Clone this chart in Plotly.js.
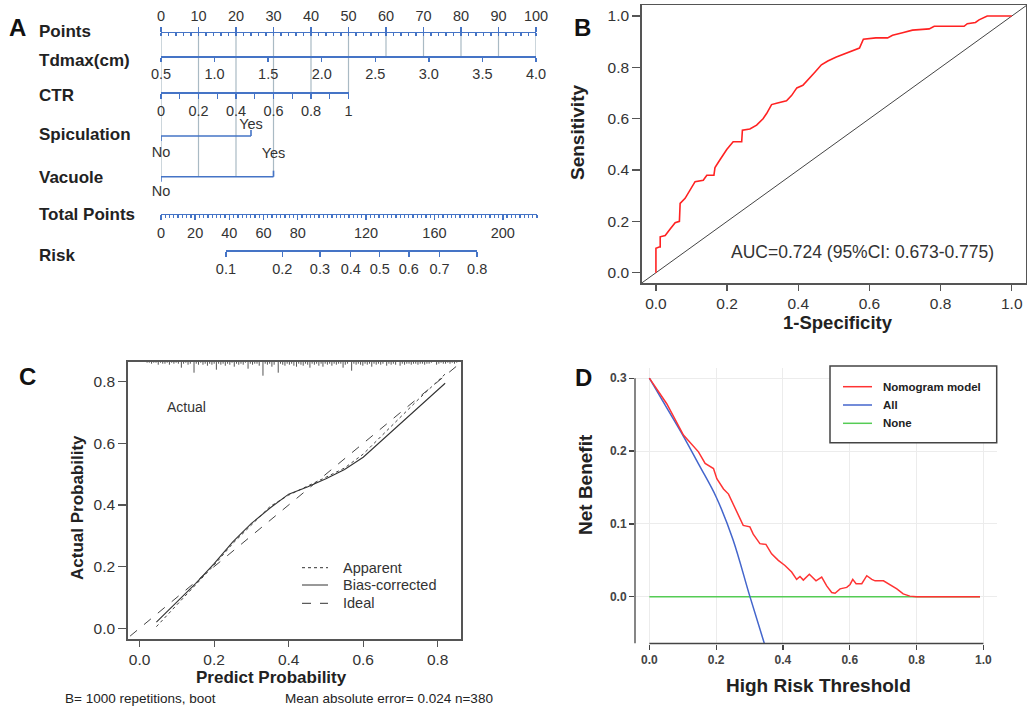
<!DOCTYPE html>
<html>
<head>
<meta charset="utf-8">
<script src="https://cdn.plot.ly/plotly-3.0.1.min.js"></script>
<style>html,body{margin:0;padding:0;background:#fff;}#fig{width:1027px;height:709px;}</style>
</head>
<body>
<div id="fig"></div>
<script>
// ================= DATA =================
// Panel A - nomogram
const pointsTicks = [0,10,20,30,40,50,60,70,80,90,100];
const tdmaxTicks = [0.5,1.0,1.5,2.0,2.5,3.0,3.5,4.0];
const tdmaxMaxPoints = 100;
const ctrTicks = [0,0.2,0.4,0.6,0.8,1];
const ctrMaxPoints = 50;
const spicLevels = ['No','Yes'];
const spicPoints = [0,24];
const vacLevels = ['No','Yes'];
const vacPoints = [0,30];
const totalTicks = [0,20,40,60,80,120,160,200];
const totalMax = 220;
const riskTicks = [0.1,0.2,0.3,0.4,0.5,0.6,0.7,0.8];
const riskTotalPoints = [38,71,93,111,128,145,163,185];
const rowNames = ['Points','Tdmax(cm)','CTR','Spiculation','Vacuole','Total Points','Risk'];

// Panel B - ROC
const rocFpr = [0,0,0.009,0.012,0.012,0.026,0.040,0.054,0.066,0.068,0.082,0.091,0.101,0.110,0.133,0.143,0.163,0.166,0.180,0.189,0.199,0.217,0.241,0.243,0.264,0.283,0.301,0.311,0.325,0.339,0.367,0.381,0.396,0.413,0.427,0.446,0.465,0.483,0.507,0.535,0.553,0.572,0.583,0.618,0.651,0.665,0.693,0.721,0.768,0.782,0.866,0.875,0.898,0.908,0.931,1.0];
const rocTpr = [0,0.095,0.10,0.10,0.14,0.145,0.17,0.195,0.20,0.27,0.29,0.31,0.33,0.355,0.36,0.38,0.38,0.41,0.44,0.46,0.48,0.51,0.51,0.555,0.56,0.575,0.60,0.62,0.655,0.66,0.67,0.69,0.72,0.73,0.75,0.78,0.81,0.825,0.84,0.855,0.865,0.875,0.91,0.915,0.915,0.925,0.935,0.945,0.95,0.96,0.96,0.97,0.975,0.985,1.0,1.0];
const chanceLine = [-0.1,1.1];
const aucLabel = 'AUC=0.724 (95%CI: 0.673-0.775)';

// Panel C - calibration
const calPred = [0.045,0.10,0.15,0.20,0.25,0.30,0.35,0.40,0.45,0.50,0.55,0.60,0.65,0.70,0.75,0.82];
const calApparent = [0.005,0.075,0.140,0.205,0.275,0.335,0.395,0.432,0.460,0.490,0.520,0.565,0.625,0.685,0.745,0.825];
const calBiasCorrected = [0.020,0.085,0.145,0.210,0.280,0.340,0.390,0.435,0.458,0.485,0.515,0.555,0.610,0.665,0.720,0.795];
const idealLine = [-0.1,1.0];
const rugP = [0.020,0.026,0.032,0.038,0.044,0.050,0.056,0.062,0.068,0.074,
  0.080,0.086,0.092,0.098,0.104,0.112,0.118,0.124,0.130,0.136,
  0.146,0.152,0.158,0.164,0.170,0.176,0.182,0.188,0.194,0.200,
  0.206,0.212,0.218,0.224,0.230,0.236,0.242,0.248,0.254,0.260,
  0.266,0.272,0.278,0.284,0.291,0.297,0.303,0.309,0.315,0.321,
  0.331,0.337,0.343,0.349,0.355,0.361,0.372,0.378,0.384,0.390,
  0.396,0.402,0.408,0.414,0.421,0.427,0.433,0.439,0.445,0.451,
  0.457,0.463,0.469,0.475,0.481,0.487,0.492,0.498,0.504,0.510,
  0.516,0.522,0.528,0.534,0.540,0.546,0.552,0.558,0.569,0.575,
  0.581,0.587,0.593,0.599,0.605,0.611,0.617,0.623,0.629,0.635,
  0.641,0.647,0.653,0.663,0.669,0.675,0.681,0.687,0.699,0.705,
  0.711,0.717,0.723,0.729,0.735,0.741,0.747,0.753,0.759,0.765,
  0.771,0.777,0.783,0.797,0.803,0.809,0.815,0.821,0.827,0.833,
  0.839,0.845,0.851];
const rugLen = [1,1,2,1,1,3,1,2,2,1,
  3,1,2,1,2,6,2,1,3,2,
  11,2,3,1,3,2,4,2,3,2,
  8,2,3,2,4,2,3,1,5,2,
  3,2,3,1,7,2,3,2,2,4,
  14,2,3,2,5,3,11,2,3,4,
  2,3,2,4,5,2,3,4,2,3,
  6,2,3,2,4,2,5,2,3,2,
  4,2,3,2,2,6,3,2,9,2,
  3,2,3,4,2,3,2,5,2,3,
  2,3,2,4,2,3,2,3,4,2,
  3,2,2,3,2,2,3,2,2,3,
  2,2,1,3,2,1,2,2,1,2,
  1,2,1];
const calLegend = ['Apparent','Bias-corrected','Ideal'];
const calNoteLeft = 'B= 1000 repetitions, boot';
const calNoteRight = 'Mean absolute error= 0.024 n=380';

// Panel D - decision curve
const dcaT = [0,0.052,0.102,0.127,0.147,0.167,0.192,0.202,0.222,0.237,0.251,0.266,0.281,0.301,0.311,0.331,0.349,0.366,0.386,0.406,0.426,0.441,0.451,0.461,0.479,0.499,0.516,0.531,0.546,0.556,0.571,0.591,0.601,0.609,0.619,0.636,0.651,0.666,0.676,0.701,0.721,0.741,0.760,0.780,0.800,0.990];
const dcaModel = [0.300,0.265,0.222,0.210,0.199,0.183,0.176,0.162,0.148,0.141,0.128,0.114,0.098,0.096,0.086,0.073,0.072,0.059,0.050,0.043,0.034,0.024,0.028,0.023,0.031,0.022,0.027,0.015,0.006,0.005,0.011,0.013,0.017,0.024,0.018,0.018,0.029,0.024,0.022,0.022,0.017,0.011,0.004,0.001,0.000,0.000];
const dcaAllT = [0,0.05,0.10,0.15,0.20,0.25,0.30,0.345];
const dcaAll = [0.300,0.261,0.222,0.180,0.137,0.079,0.002,-0.065];
const dcaNoneT = [0,0.99];
const dcaNone = [0,0];
const dcaLegend = ['Nomogram model','All','None'];

// ================= LAYOUT HELPERS =================
const W = 1027, H = 709;
const fx = p => p / W;
const fy = p => 1 - p / H;
const FONT = 'Liberation Sans, Arial, Helvetica, sans-serif';
const BLUE = '#4574c6';
const GREYV = '#a9bac4';
const TXT = '#333333';

// nomogram geometry (pixels)
const nomo = {x0:161, x1:536, totX1:537, top:0, bottom:290};
const rowY = {points:31.7, tdmax:56, ctr:92, spic:136, vac:176.7, total:213.5, risk:250};
const ptPx = (nomo.x1 - nomo.x0) / 100;
const totPx = (nomo.totX1 - nomo.x0) / totalMax;

function nomoAxis(o) {
  return Object.assign({
    anchor:'free', showgrid:false, zeroline:false, showline:true,
    linecolor:BLUE, linewidth:1.6, ticks:'outside', tickcolor:BLUE, tickwidth:1.4, ticklen:5,
    tickfont:{family:FONT, size:14.5, color:TXT}, fixedrange:true, tickmode:'array'
  }, o);
}
function boxAxis(o) {
  return Object.assign({
    showgrid:false, zeroline:false, showline:true, mirror:true,
    linecolor:'#555', linewidth:1.5, ticks:'outside', tickcolor:'#555', tickwidth:1.3, ticklen:6,
    tickfont:{family:FONT, size:15.5, color:TXT}, fixedrange:true, tickmode:'array'
  }, o);
}

const riskDomain = [fx(nomo.x0 + riskTotalPoints[0]*totPx), fx(nomo.x0 + riskTotalPoints[riskTotalPoints.length-1]*totPx)];

// ================= TRACES =================
const traces = [];
// vertical reference lines of the nomogram
const rows = [
  {max: tdmaxMaxPoints, y: rowY.tdmax},
  {max: ctrMaxPoints, y: rowY.ctr},
  {max: spicPoints[1], y: rowY.spic},
  {max: vacPoints[1], y: rowY.vac}
];
const vx = [], vy = [];
pointsTicks.forEach(p => {
  let end = rowY.tdmax;
  rows.forEach(r => { if (r.max >= p - 0.5 && r.y > end) end = r.y; });
  vx.push(p, p, null); vy.push(rowY.points, end, null);
});
traces.push({type:'scatter', mode:'lines', x:vx, y:vy, xaxis:'x', yaxis:'y',
  line:{color:GREYV, width:1.2}, hoverinfo:'skip', showlegend:false});

function levelRow(pts, y) {
  traces.push({type:'scatter', mode:'lines', xaxis:'x', yaxis:'y',
    x:[pts[0], pts[1], null, pts[0], pts[0], null, pts[1], pts[1]],
    y:[y, y, null, y, y+5, null, y, y-6],
    line:{color:BLUE, width:1.6}, hoverinfo:'skip', showlegend:false});
}
levelRow(spicPoints, rowY.spic);
levelRow(vacPoints, rowY.vac);
traces.push({type:'scatter', mode:'text', xaxis:'x', yaxis:'y',
  x:[spicPoints[0], spicPoints[1], vacPoints[0], vacPoints[1]],
  y:[rowY.spic+17, rowY.spic-11, rowY.vac+15.5, rowY.vac-22],
  text:[spicLevels[0], spicLevels[1], vacLevels[0], vacLevels[1]],
  textposition:'middle center', textfont:{family:FONT, size:14.5, color:TXT},
  hoverinfo:'skip', showlegend:false, cliponaxis:false});
// anchor traces so the extra nomogram axes are drawn
['x2','x3','x4','x5'].forEach(ax => traces.push({type:'scatter', mode:'markers', x:[null], y:[null],
  xaxis:ax, yaxis:'y', hoverinfo:'skip', showlegend:false}));

// Panel B
traces.push({type:'scatter', mode:'lines', x:chanceLine, y:chanceLine, xaxis:'x6', yaxis:'y2',
  line:{color:'#444', width:1}, hoverinfo:'skip', showlegend:false});
traces.push({type:'scatter', mode:'lines', x:rocFpr, y:rocTpr, xaxis:'x6', yaxis:'y2',
  line:{color:'#ff2222', width:1.6}, name:'ROC', showlegend:false});

// Panel C
const cTop = 0.865, cBot = -0.036, cPxTop = 361.7, cPxBot = 639.3;
const rugUnit = (cTop - cBot) / (cPxBot - cPxTop);
const rx = [], ry = [];
rugP.forEach((p, i) => { rx.push(p, p, null); ry.push(cTop, cTop - rugLen[i]*rugUnit, null); });
traces.push({type:'scatter', mode:'lines', x:rx, y:ry, xaxis:'x7', yaxis:'y3',
  line:{color:'#555', width:1}, hoverinfo:'skip', showlegend:false});
traces.push({type:'scatter', mode:'lines', x:idealLine, y:idealLine, xaxis:'x7', yaxis:'y3',
  line:{color:'#444', width:1, dash:'dash'}, name:calLegend[2], showlegend:false});
traces.push({type:'scatter', mode:'lines', x:calPred, y:calApparent, xaxis:'x7', yaxis:'y3',
  line:{color:'#444', width:1, dash:'dot'}, name:calLegend[0], showlegend:false});
traces.push({type:'scatter', mode:'lines', x:calPred, y:calBiasCorrected, xaxis:'x7', yaxis:'y3',
  line:{color:'#333', width:1.1}, name:calLegend[1], showlegend:false});

// Panel D
const RED = '#ff3333', DBLUE = '#4466cc', GREEN = '#55cc55';
traces.push({type:'scatter', mode:'lines', x:dcaNoneT, y:dcaNone, xaxis:'x8', yaxis:'y4',
  line:{color:GREEN, width:1.5}, name:dcaLegend[2], showlegend:false});
traces.push({type:'scatter', mode:'lines', x:dcaAllT, y:dcaAll, xaxis:'x8', yaxis:'y4',
  line:{color:DBLUE, width:1.5, shape:'spline'}, name:dcaLegend[1], showlegend:false});
traces.push({type:'scatter', mode:'lines', x:dcaT, y:dcaModel, xaxis:'x8', yaxis:'y4',
  line:{color:RED, width:1.5}, name:dcaLegend[0], showlegend:false});

// ================= LAYOUT =================
const layout = {
  width:W, height:H, margin:{l:0,r:0,t:0,b:0},
  paper_bgcolor:'#ffffff', plot_bgcolor:'rgba(0,0,0,0)',
  font:{family:FONT, color:TXT}, showlegend:false, hovermode:false,
  // ---- A ----
  xaxis: nomoAxis({domain:[fx(nomo.x0), fx(nomo.x1)], range:[0,100], position:fy(rowY.points), side:'top',
    tickvals:pointsTicks, ticktext:pointsTicks.map(String), ticklen:5,
    minor:{tickmode:'linear', tick0:0, dtick:2, ticks:'inside', ticklen:3, tickcolor:BLUE, tickwidth:1.2}}),
  xaxis2: nomoAxis({domain:[fx(nomo.x0), fx(nomo.x1)], range:[tdmaxTicks[0], tdmaxTicks[tdmaxTicks.length-1]],
    position:fy(rowY.tdmax), tickvals:tdmaxTicks, ticktext:tdmaxTicks.map(v=>v.toFixed(1)), ticklen:4}),
  xaxis3: nomoAxis({domain:[fx(nomo.x0), fx(nomo.x0 + ctrMaxPoints*ptPx)], range:[ctrTicks[0], ctrTicks[ctrTicks.length-1]],
    position:fy(rowY.ctr), tickvals:ctrTicks, ticktext:ctrTicks.map(String), ticklen:5,
    minor:{tickmode:'linear', tick0:0, dtick:0.1, ticks:'outside', ticklen:5, tickcolor:BLUE, tickwidth:1.4}}),
  xaxis4: nomoAxis({domain:[fx(nomo.x0), fx(nomo.totX1)], range:[0,totalMax], position:fy(rowY.total),
    tickvals:totalTicks, ticktext:totalTicks.map(String), ticklen:5,
    minor:{tickmode:'linear', tick0:0, dtick:2.5, ticks:'outside', ticklen:3, tickcolor:BLUE, tickwidth:1.2}}),
  xaxis5: nomoAxis({domain:riskDomain, range:[riskTotalPoints[0], riskTotalPoints[riskTotalPoints.length-1]],
    position:fy(rowY.risk), tickvals:riskTotalPoints, ticktext:riskTicks.map(String), ticklen:5}),
  yaxis: {domain:[fy(nomo.bottom), fy(nomo.top)], range:[nomo.bottom, nomo.top], visible:false, fixedrange:true},
  // ---- B ----
  xaxis6: boxAxis({domain:[fx(641.7), fx(1026)], range:[-0.04,1.04], anchor:'y2',
    tickvals:[0,0.2,0.4,0.6,0.8,1.0], ticktext:['0.0','0.2','0.4','0.6','0.8','1.0']}),
  yaxis2: boxAxis({domain:[fy(283), fy(5)], range:[-0.04,1.043], anchor:'x6', ticklen:8,
    tickvals:[0,0.2,0.4,0.6,0.8,1.0], ticktext:['0.0','0.2','0.4','0.6','0.8','1.0']}),
  // ---- C ----
  xaxis7: boxAxis({domain:[fx(127.7), fx(461)], range:[-0.032,0.8625], anchor:'y3',
    tickvals:[0,0.2,0.4,0.6,0.8], ticktext:['0.0','0.2','0.4','0.6','0.8']}),
  yaxis3: boxAxis({domain:[fy(cPxBot), fy(cPxTop)], range:[cBot,cTop], anchor:'x7', ticklen:8,
    tickvals:[0,0.2,0.4,0.6,0.8], ticktext:['0.0','0.2','0.4','0.6','0.8']}),
  // ---- D ----
  xaxis8: {domain:[fx(635), fx(996.7)], range:[-0.043,1.04], anchor:'y4', showline:false, zeroline:false,
    showgrid:true, gridcolor:'#ececec', gridwidth:1, ticks:'outside', ticklen:5, tickcolor:'#444', tickwidth:1.3,
    tickmode:'array', tickvals:[0,0.2,0.4,0.6,0.8,1.0], ticktext:['0.0','0.2','0.4','0.6','0.8','1.0'],
    tickfont:{family:FONT, size:12, color:'#444', weight:'bold'}, fixedrange:true},
  yaxis4: {domain:[fy(643.5), fy(368)], range:[-0.064,0.314], anchor:'x8', showline:false, zeroline:false,
    showgrid:true, gridcolor:'#ececec', gridwidth:1, ticks:'outside', ticklen:5, tickcolor:'#444', tickwidth:1.3,
    tickmode:'array', tickvals:[0,0.1,0.2,0.3], ticktext:['0.0','0.1','0.2','0.3'],
    tickfont:{family:FONT, size:12, color:'#444', weight:'bold'}, fixedrange:true},
  shapes: [], annotations: []
};

// D axis lines (only over the labelled span)
layout.shapes.push({type:'line', xref:'x8 domain', yref:'y4', x0:0, x1:0, y0:-0.064, y1:0.3, line:{color:'#444', width:1.3}});
layout.shapes.push({type:'line', xref:'x8', yref:'y4 domain', x0:0, x1:1, y0:0, y1:0, line:{color:'#444', width:1.3}});
// D legend
layout.shapes.push({type:'rect', xref:'paper', yref:'paper', x0:fx(830), x1:fx(996.7), y0:fy(442.7), y1:fy(366),
  line:{color:'#444', width:1.5}, fillcolor:'#ffffff'});
const dLegY = [386.7, 405, 423.3], dLegC = [RED, DBLUE, GREEN];
dcaLegend.forEach((t, i) => {
  layout.shapes.push({type:'line', xref:'paper', yref:'paper', x0:fx(843), x1:fx(872), y0:fy(dLegY[i]), y1:fy(dLegY[i]), line:{color:dLegC[i], width:1.5}});
  layout.annotations.push({text:t, xref:'paper', yref:'paper', x:fx(881), y:fy(dLegY[i]), xanchor:'left', yanchor:'middle',
    showarrow:false, font:{family:FONT, size:11.5, color:'#222', weight:'bold'}});
});
// C legend
const cLegY = [567.7, 585, 603.3], cLegDash = ['dot','solid','dash'];
calLegend.forEach((t, i) => {
  layout.shapes.push({type:'line', xref:'paper', yref:'paper', x0:fx(302), x1:fx(328), y0:fy(cLegY[i]), y1:fy(cLegY[i]), line:{color:'#333', width:1, dash:cLegDash[i]}});
  layout.annotations.push({text:t, xref:'paper', yref:'paper', x:fx(341), y:fy(cLegY[i]), xanchor:'left', yanchor:'middle',
    showarrow:false, font:{family:FONT, size:14.5, color:TXT}});
});

function ann(text, x, y, o) {
  layout.annotations.push(Object.assign({text:text, xref:'paper', yref:'paper', x:fx(x), y:fy(y),
    showarrow:false, xanchor:'center', yanchor:'middle', font:{family:FONT, size:14, color:TXT}}, o));
}
const bold = (s, c) => ({family:FONT, size:s, color:c || '#222', weight:'bold'});
// panel letters
ann('A', 17, 27, {font:bold(24,'#111')});
ann('B', 582, 27, {font:bold(24,'#111')});
ann('C', 27, 377, {font:bold(24,'#111')});
ann('D', 583, 378, {font:bold(24,'#111')});
// nomogram row names
const rowLabelY = [31, 61, 95, 134, 177, 215, 255];
rowNames.forEach((n, i) => ann(n, 37, rowLabelY[i], {xanchor:'left', font:bold(17)}));
// B
ann('Sensitivity', 577, 133, {textangle:-90, font:bold(19)});
ann('1-Specificity', 838, 322, {font:bold(18.5)});
ann(aucLabel, 862, 252, {font:{family:FONT, size:17.5, color:TXT}});
// C
ann('Actual', 186, 407, {font:{family:FONT, size:14, color:TXT}});
ann('Actual Probability', 77, 508, {textangle:-90, font:bold(17)});
ann('Predict Probability', 271, 677, {font:bold(17)});
ann(calNoteLeft, 63, 698, {xanchor:'left', font:{family:FONT, size:13.5, color:'#222'}});
ann(calNoteRight, 283, 698, {xanchor:'left', font:{family:FONT, size:13.5, color:'#222'}});
// D
ann('Net Benefit', 585, 485, {textangle:-90, font:bold(19)});
ann('High Risk Threshold', 818, 685, {font:bold(19)});

Plotly.newPlot('fig', traces, layout, {staticPlot:true, displayModeBar:false});
</script>
</body>
</html>
